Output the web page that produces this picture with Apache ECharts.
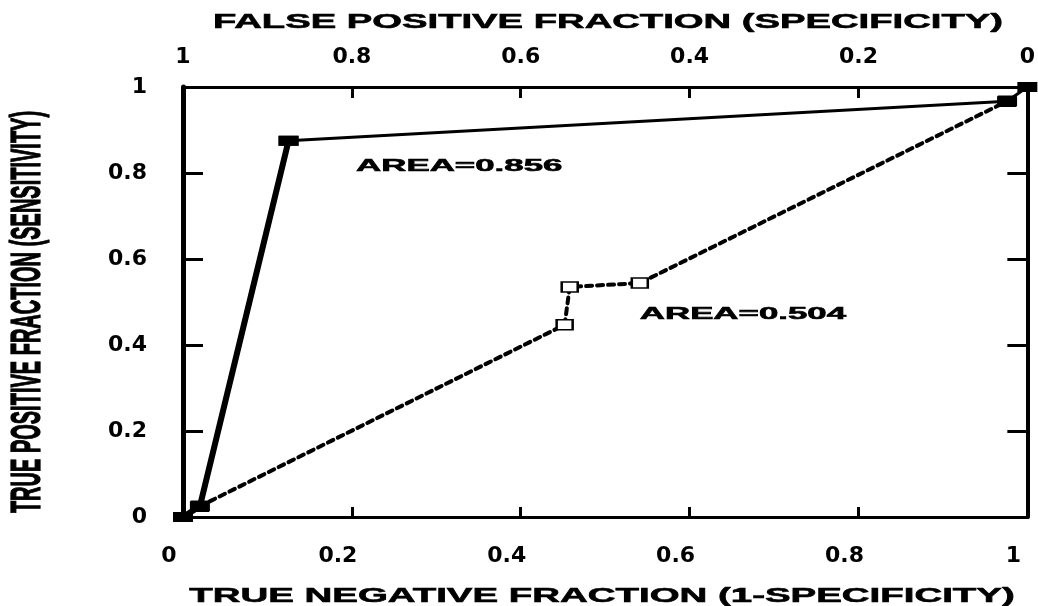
<!DOCTYPE html>
<html><head><meta charset="utf-8">
<script src="https://cdn.jsdelivr.net/npm/echarts@6/dist/echarts.min.js"></script>
<style>html,body{margin:0;padding:0;background:#fff}#c{width:1038px;height:606px}</style>
</head><body><div id="c"></div>
<script>
// ---- data ----
const solidLower = [[0, 0], [0.02, 0.025], [0.125, 0.875]];
const solidUpper = [[0.125, 0.875], [0.976, 0.967], [1, 1]];
const dotted = [[0.02, 0.025], [0.452, 0.447], [0.458, 0.535], [0.541, 0.544], [0.976, 0.967]];
const areaTexts = ['AREA=0.856', 'AREA=0.504'];
const areaAnchors = [[0.205, 0.816], [0.541, 0.472]];
const titleTop = 'FALSE POSITIVE FRACTION (SPECIFICITY)';
const titleBottom = 'TRUE NEGATIVE FRACTION (1-SPECIFICITY)';
const titleLeft = 'TRUE POSITIVE FRACTION (SENSITIVITY)';
const axisMin = 0, axisMax = 1, axisStep = 0.2;

const chart = echarts.init(document.getElementById('c'), null, {renderer: 'canvas'});
const black = '#000';
const lblFont = {fontFamily: 'DejaVu Sans', fontWeight: 'bold', fontSize: 22, color: black};
function ax(extra) {
  return Object.assign({
    type: 'value', min: axisMin, max: axisMax, interval: axisStep,
    splitLine: {show: false}
  }, extra);
}
const option = {
  animation: false,
  backgroundColor: '#fff',
  grid: {left: 183, right: 5, top: 87, bottom: 89, containLabel: false},
  xAxis: [
    ax({position: 'bottom',
      axisLine: {show: true, onZero: false, lineStyle: {color: black, width: 3}},
      axisTick: {show: true, inside: true, length: 10, lineStyle: {color: black, width: 3}},
      axisLabel: Object.assign({margin: 28, padding: [0, 28, 0, 0]}, lblFont)}),
    ax({position: 'top', inverse: true,
      axisLine: {show: true, onZero: false, lineStyle: {color: black, width: 3}},
      axisTick: {show: true, inside: true, length: 11, lineStyle: {color: black, width: 3}},
      axisLabel: Object.assign({margin: 19}, lblFont)})
  ],
  yAxis: [
    ax({position: 'left',
      axisLine: {show: true, onZero: false, lineStyle: {color: black, width: 5}},
      axisTick: {show: true, inside: true, length: 20, lineStyle: {color: black, width: 3}},
      axisLabel: Object.assign({margin: 36, padding: [10, 0, 0, 0]}, lblFont)}),
    ax({position: 'right',
      axisLine: {show: true, onZero: false, lineStyle: {color: black, width: 4}},
      axisTick: {show: true, inside: true, length: 20, lineStyle: {color: black, width: 3}},
      axisLabel: {show: false}})
  ],
  series: [
    {type: 'line', name: 'dotted', data: dotted, z: 2, xAxisIndex: 0, yAxisIndex: 0,
      symbol: 'rect', symbolSize: [16, 10], showAllSymbol: true,
      itemStyle: {color: '#fff', borderColor: black, borderWidth: 2},
      lineStyle: {color: black, width: 4, type: [6, 5], cap: 'round'}},
    {type: 'line', name: 'solidLower', data: solidLower, z: 3,
      symbol: 'rect', symbolSize: [20, 10], showAllSymbol: true,
      itemStyle: {color: black},
      lineStyle: {color: black, width: 6}},
    {type: 'line', name: 'solidUpper', data: solidUpper, z: 3,
      symbol: 'rect', symbolSize: [20, 10], showAllSymbol: true,
      itemStyle: {color: black},
      lineStyle: {color: black, width: 3}}
  ]
};
chart.setOption(option);

function txt(text, x, y, sx, sy, size, rot, align) {
  return {type: 'text', x: x, y: y, rotation: rot || 0, scaleX: sx, scaleY: sy, z: 10,
    style: {text: text, fill: black, stroke: black, lineWidth: 0.6,
      fontFamily: 'Liberation Sans', fontWeight: 'bold', fontSize: size,
      align: align || 'center', verticalAlign: 'middle', textAlign: align || 'center', textVerticalAlign: 'middle'}};
}
const g = [
  txt(titleTop, 608, 22, 1.82, 1, 21),
  txt(titleBottom, 602, 596, 1.83, 1, 21),
  txt(titleLeft, 28, 312, 1.0, 2.1, 20, Math.PI / 2)
];
areaTexts.forEach(function (t, i) {
  const p = chart.convertToPixel({xAxisIndex: 0, yAxisIndex: 0}, areaAnchors[i]);
  g.push(txt(t, p[0], p[1], 2.05, 1, 17, 0, 'left'));
});
chart.setOption({graphic: g});
</script></body></html>
